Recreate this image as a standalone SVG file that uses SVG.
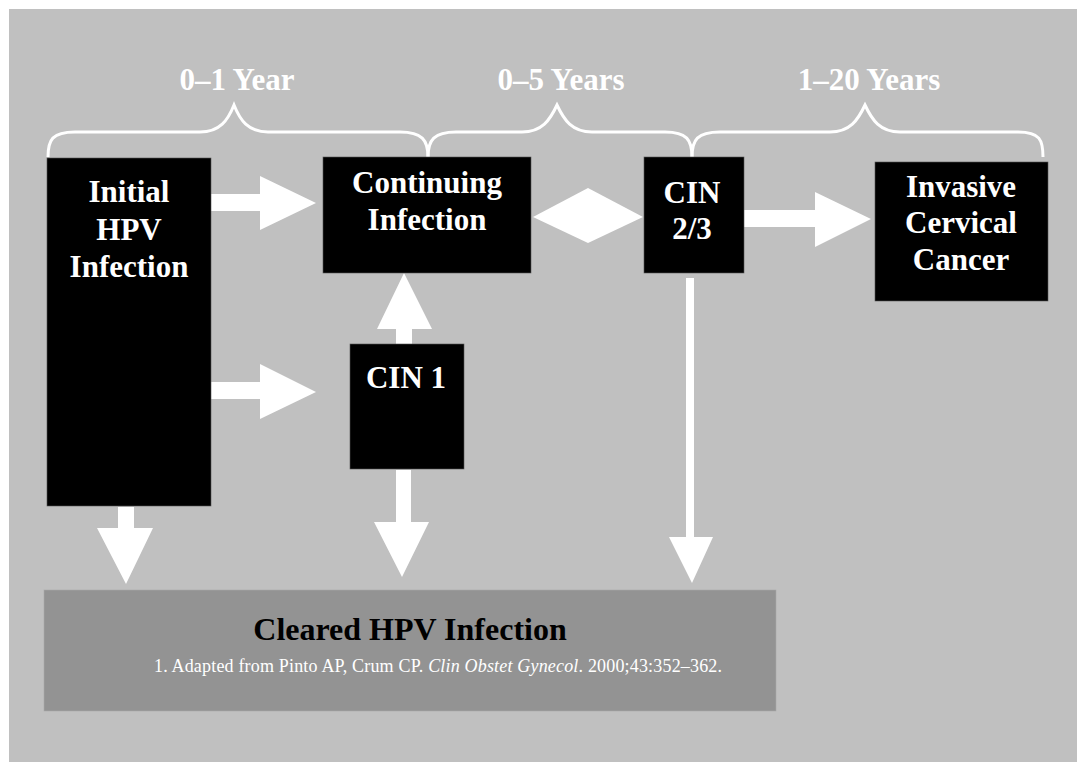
<svg xmlns="http://www.w3.org/2000/svg" width="1077" height="762" viewBox="0 0 1077 762">
<style>
.box{fill:#000;stroke:#555;stroke-width:0.6}
.t{font-family:"Liberation Serif","Times New Roman",serif;font-weight:bold;fill:#fff;text-anchor:middle}
.node{font-size:31px}
.lab{font-size:31px}
.arr{fill:#fff}
.brace{fill:none;stroke:#fff;stroke-width:3}
</style>
<rect x="0" y="0" width="1077" height="762" fill="#fff"/>
<rect x="9" y="9" width="1068" height="753" fill="#c0c0c0"/>

<g id="braces">
<path class="brace" d="M48,157 C48,140 52,132 75,132 L200,132 C220,132 228,120 234,105 C240,120 248,132 268,132 L400,132 C422,132 428,140 428,157"/>
<path class="brace" d="M428,157 C428,140 434,132 456,132 L522,132 C542,132 550,120 557,105 C564,120 572,132 592,132 L665,132 C687,132 692,140 692,157"/>
<path class="brace" d="M692,157 C692,140 697,132 720,132 L830,132 C850,132 858,120 865,105 C872,120 880,132 900,132 L1018,132 C1040,132 1043,140 1043,157"/>
<text class="t lab" x="237" y="90">0–1 Year</text>
<text class="t lab" x="561" y="90">0–5 Years</text>
<text class="t lab" x="869" y="90">1–20 Years</text>
</g>

<g id="connectors">
<polygon class="arr" points="211,194 260,194 260,176 316,203 260,230 260,211 211,211"/>
<polygon class="arr" points="211,382 260,382 260,364 316,392 260,419 260,399 211,399"/>
<polygon class="arr" points="533,217 588,188 643,217 588,243"/>
<polygon class="arr" points="744,210 815,210 815,192 871,219 815,247 815,227 744,227"/>
<polygon class="arr" points="396,344 396,329 377,329 404,273 432,329 412,329 412,344"/>
<polygon class="arr" points="396,470 396,522 374,522 402,577 429,522 411,522 411,470"/>
<polygon class="arr" points="118,507 134,507 134,528 153,528 126,584 97,528 118,528"/>
<polygon class="arr" points="686,278 694,278 694,537 713,537 692,583 669,537 686,537"/>
</g>

<g id="node-initial">
<rect class="box" x="47" y="158" width="164" height="348"/>
<text class="t node" x="129" y="202">Initial</text>
<text class="t node" x="129" y="240">HPV</text>
<text class="t node" x="129" y="277">Infection</text>
</g>

<g id="node-continuing">
<rect class="box" x="323" y="157" width="208" height="116"/>
<text class="t node" x="427" y="193">Continuing</text>
<text class="t node" x="427" y="230">Infection</text>
</g>

<g id="node-cin23">
<rect class="box" x="644" y="157" width="100" height="116"/>
<text class="t node" x="692" y="203">CIN</text>
<text class="t node" x="692" y="239">2/3</text>
</g>

<g id="node-invasive">
<rect class="box" x="875" y="162" width="173" height="139"/>
<text class="t node" x="961" y="197">Invasive</text>
<text class="t node" x="961" y="233">Cervical</text>
<text class="t node" x="961" y="270">Cancer</text>
</g>

<g id="node-cin1">
<rect class="box" x="350" y="344" width="114" height="125"/>
<text class="t node" x="406" y="388">CIN 1</text>
</g>

<g id="node-cleared">
<rect x="44" y="590" width="732" height="121" fill="#939393" stroke="#a8a8a8" stroke-width="0.6"/>
<text class="t" x="410" y="640" font-size="32" fill="#000" style="fill:#000">Cleared HPV Infection</text>
<text x="438" y="672" font-family="'Liberation Serif','Times New Roman',serif" font-size="18" fill="#fff" text-anchor="middle" textLength="568" lengthAdjust="spacing">1. Adapted from Pinto AP, Crum CP. <tspan font-style="italic">Clin Obstet Gynecol</tspan>. 2000;43:352–362.</text>
</g>
</svg>
